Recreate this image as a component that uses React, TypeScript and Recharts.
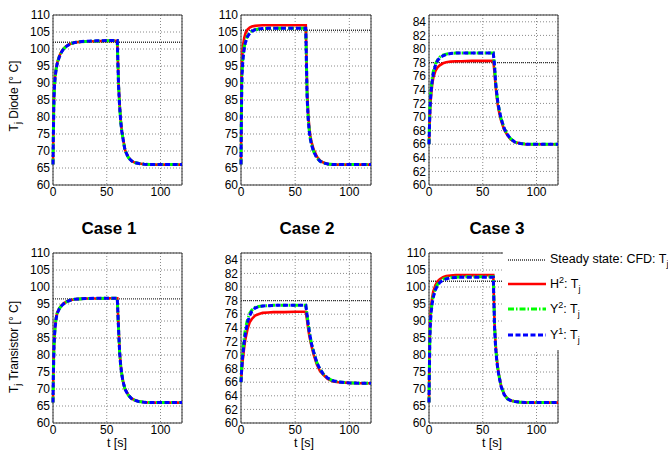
import {
  LineChart,
  Line,
  XAxis,
  YAxis,
  CartesianGrid,
  ReferenceLine,
  ReferenceArea,
} from 'recharts';

// time axis shared by every panel [s]
const T = [0, 0.3, 0.7, 1, 1.5, 2, 3, 4, 6, 8, 10, 13, 16, 20, 25, 30, 40, 50, 59.8, 61, 62, 63, 64, 65, 67, 70, 73, 76, 80, 85, 90, 100, 110, 120];

const xTicks = [0, 50, 100];
const wideTicks = [60, 65, 70, 75, 80, 85, 90, 95, 100, 105, 110];
const narrowTicks = [60, 62, 64, 66, 68, 70, 72, 74, 76, 78, 80, 82, 84];

// Case 1 - diode
const c1DiodeH2 = [66, 75, 83, 87, 90, 92, 94.5, 96, 98, 99.3, 100.2, 101, 101.5, 101.9, 102.1, 102.2, 102.3, 102.4, 102.4, 90, 83.5, 79, 76, 74, 70.3, 68.2, 67.1, 66.6, 66.3, 66.1, 66, 66, 66, 66];
const c1DiodeY2 = [66, 74, 82, 86.5, 89.8, 91.8, 94.3, 95.9, 97.9, 99.2, 100.1, 100.9, 101.5, 101.9, 102.1, 102.2, 102.3, 102.4, 102.4, 89, 83, 78.6, 75.8, 73.8, 70.2, 68.1, 67.1, 66.6, 66.3, 66.1, 66, 66, 66, 66];
const c1DiodeY1 = [66, 74, 82, 86.5, 89.7, 91.7, 94.2, 95.8, 97.8, 99.1, 100.1, 100.9, 101.5, 101.9, 102.1, 102.3, 102.4, 102.5, 102.5, 89, 83, 78.6, 75.8, 73.8, 70.2, 68.1, 67.1, 66.6, 66.3, 66.1, 66, 66, 66, 66];

// Case 2 - diode
const c2DiodeH2 = [66, 82, 93, 96.5, 99.5, 101.3, 103.3, 104.5, 105.7, 106.3, 106.6, 106.8, 106.9, 107, 107, 107, 107, 107, 107, 88, 81, 77, 74.5, 72.8, 70.5, 68.4, 67.2, 66.6, 66.2, 66, 66, 66, 66, 66];
const c2DiodeY2 = [66, 79, 90, 93.5, 96.3, 98.2, 100.6, 102.2, 103.9, 104.8, 105.3, 105.7, 105.9, 106, 106.1, 106.1, 106.1, 106.1, 106.1, 86.5, 79.8, 76, 73.7, 72.1, 69.9, 68, 67, 66.5, 66.2, 66, 66, 66, 66, 66];
const c2DiodeY1 = [66, 78, 89, 92.5, 95.5, 97.5, 100, 101.8, 103.6, 104.6, 105.2, 105.7, 105.9, 106, 106.1, 106.1, 106.1, 106.1, 106.1, 86, 79.5, 75.8, 73.5, 72, 69.8, 68, 67, 66.5, 66.2, 66, 66, 66, 66, 66];

// Case 3 - diode
const c3DiodeH2 = [66, 67.6, 69.6, 71, 72.3, 73.3, 74.8, 75.8, 76.8, 77.3, 77.6, 77.9, 78.05, 78.15, 78.2, 78.2, 78.25, 78.25, 78.25, 76.5, 74.5, 73, 71.8, 70.9, 69.5, 68.1, 67.3, 66.7, 66.3, 66.1, 66, 66, 66, 66];
const c3DiodeY2 = [66, 68.2, 70.5, 72, 73.3, 74.3, 75.7, 76.7, 77.8, 78.4, 78.8, 79.1, 79.25, 79.35, 79.4, 79.4, 79.4, 79.4, 79.4, 77.5, 75, 73.5, 72.2, 71.3, 69.8, 68.3, 67.4, 66.8, 66.3, 66.1, 66, 66, 66, 66];
const c3DiodeY1 = [66, 67.8, 70, 71.5, 72.8, 73.8, 75.3, 76.4, 77.6, 78.3, 78.7, 79, 79.2, 79.35, 79.4, 79.4, 79.4, 79.4, 79.4, 77.5, 75, 73.5, 72.2, 71.3, 69.8, 68.3, 67.4, 66.8, 66.3, 66.1, 66, 66, 66, 66];

// Case 1 - transistor
const c1TransH2 = [66, 74, 80, 83.5, 86.5, 88.5, 91.2, 92.5, 93.8, 94.6, 95.2, 95.8, 96.1, 96.4, 96.5, 96.6, 96.6, 96.7, 96.7, 88, 81, 77, 74.5, 72.5, 70, 68.3, 67.2, 66.7, 66.3, 66.1, 66, 66, 66, 66];
const c1TransY2 = [66, 73.5, 79.5, 83, 86.2, 88.3, 91, 92.4, 93.7, 94.5, 95.1, 95.7, 96.1, 96.4, 96.5, 96.6, 96.6, 96.7, 96.7, 87.5, 80.7, 76.8, 74.3, 72.4, 69.9, 68.2, 67.2, 66.7, 66.3, 66.1, 66, 66, 66, 66];
const c1TransY1 = [66, 73.5, 79.5, 83, 86.1, 88.2, 90.9, 92.3, 93.7, 94.5, 95.1, 95.7, 96.1, 96.4, 96.5, 96.6, 96.7, 96.7, 96.7, 87.5, 80.7, 76.8, 74.3, 72.4, 69.9, 68.2, 67.2, 66.7, 66.3, 66.1, 66, 66, 66, 66];

// Case 2 - transistor
const c2TransH2 = [66, 66.7, 67.6, 68.2, 69.1, 69.8, 71.2, 72.3, 73.8, 74.8, 75.3, 75.8, 76, 76.2, 76.25, 76.3, 76.3, 76.35, 76.35, 75.1, 73.9, 72.9, 72.1, 71.4, 70.1, 68.6, 67.6, 67.1, 66.5, 66.1, 66, 65.9, 65.85, 65.85];
const c2TransY2 = [66, 67.2, 68.5, 69.3, 70.3, 71.1, 72.6, 73.8, 75.2, 76.1, 76.6, 77, 77.15, 77.2, 77.25, 77.3, 77.3, 77.3, 77.3, 75.9, 74.6, 73.5, 72.6, 71.7, 70.5, 68.9, 67.9, 67.2, 66.6, 66.2, 66.05, 65.9, 65.85, 65.85];
const c2TransY1 = [66, 66.9, 68, 68.7, 69.7, 70.5, 72, 73.1, 74.8, 75.8, 76.4, 76.9, 77.1, 77.2, 77.25, 77.3, 77.3, 77.3, 77.3, 75.9, 74.6, 73.5, 72.6, 71.7, 70.5, 68.9, 67.9, 67.2, 66.6, 66.2, 66.05, 65.9, 65.85, 65.85];

// Case 3 - transistor
const c3TransH2 = [66, 76, 85, 89, 92.5, 94.5, 97, 98.7, 100.6, 101.7, 102.3, 102.9, 103.2, 103.4, 103.5, 103.5, 103.5, 103.5, 103.5, 89, 83, 79, 76.3, 74.3, 71, 68.4, 67.2, 66.6, 66.3, 66.1, 66, 66, 66, 66];
const c3TransY2 = [66, 74.5, 83, 87.5, 91, 93, 95.6, 97.4, 99.5, 100.8, 101.6, 102.3, 102.6, 102.8, 102.9, 103, 103, 103, 103, 88.5, 82.5, 78.7, 76, 74.1, 70.9, 68.3, 67.1, 66.6, 66.3, 66.1, 66, 66, 66, 66];
const c3TransY1 = [66, 74, 82.5, 87, 90.5, 92.5, 95.2, 97, 99.2, 100.5, 101.3, 102, 102.4, 102.7, 102.8, 102.9, 102.9, 102.9, 102.9, 88, 82, 78.5, 75.8, 74, 70.8, 68.3, 67.1, 66.6, 66.3, 66.1, 66, 66, 66, 66];

// steady state CFD values per panel
const steadyDiode = [102, 105.5, 78];
const steadyTrans = [96.5, 78, 101.7];

const FONT = '"Liberation Sans", Arial, sans-serif';
const RED = '#ff0000';
const GREEN = '#00ff00';
const BLUE = '#0000ff';

const buildRows = (h2: number[], y2: number[], y1: number[]) =>
  T.map((t, i) => ({ t, h2: h2[i], y2: y2[i], y1: y1[i] }));

interface PanelProps {
  x: number;
  y: number;
  w: number;
  h2: number[];
  y2: number[];
  y1: number[];
  steady: number;
  domain: [number, number];
  ticks: number[];
}

const PLOT_H = 170;
const Y_AXIS_W = 50;
const TOP_PAD = 10;

const Panel = ({ x, y, w, h2, y2, y1, steady, domain, ticks }: PanelProps) => {
  const data = buildRows(h2, y2, y1);
  const tickStyle = { fill: '#000', fontSize: 12, fontFamily: FONT };
  return (
    <div style={{ position: 'absolute', left: x - Y_AXIS_W, top: y - TOP_PAD }}>
      <LineChart
        width={w + Y_AXIS_W + 5}
        height={PLOT_H + TOP_PAD + 22}
        data={data}
        margin={{ top: TOP_PAD, right: 5, left: 0, bottom: 0 }}
      >
        <CartesianGrid strokeDasharray="1 2" stroke="#8a8a8a" />
        <XAxis
          dataKey="t"
          type="number"
          domain={[0, 120]}
          ticks={xTicks}
          height={22}
          axisLine={false}
          tickLine={false}
          tickSize={2}
          tickMargin={0}
          tick={tickStyle}
        />
        <YAxis
          type="number"
          domain={domain}
          ticks={ticks}
          interval={0}
          width={Y_AXIS_W}
          axisLine={false}
          tickLine={false}
          tickSize={3}
          tickMargin={0}
          tick={tickStyle}
        />
        <ReferenceArea x1={0} x2={120} y1={domain[0]} y2={domain[1]} fill="none" fillOpacity={0} stroke="#333" strokeWidth={1} />
        <ReferenceLine y={steady} stroke="#333" strokeDasharray="1 1" strokeWidth={1.4} />
        <Line dataKey="h2" type="linear" stroke={RED} strokeWidth={2.6} dot={false} isAnimationActive={false} />
        <Line dataKey="y2" type="linear" stroke={GREEN} strokeWidth={3} strokeDasharray="6 2 1.5 2" dot={false} isAnimationActive={false} />
        <Line dataKey="y1" type="linear" stroke={BLUE} strokeWidth={3} strokeDasharray="5 2.5" dot={false} isAnimationActive={false} />
      </LineChart>
    </div>
  );
};

const YLabel = ({ cy, text }: { cy: number; text: string }) => (
  <svg style={{ position: 'absolute', left: 0, top: 0 }} width={30} height={457}>
    <text
      transform={`translate(18, ${cy}) rotate(-90)`}
      textAnchor="middle"
      fontFamily={FONT}
      fontSize={12}
      fill="#000"
    >
      T<tspan dy={3} fontSize={9}>j</tspan>
      <tspan dy={-3}>{` ${text}`}</tspan>
    </text>
  </svg>
);

const titleStyle = (cx: number): React.CSSProperties => ({
  position: 'absolute',
  left: cx - 50,
  top: 219,
  width: 100,
  textAlign: 'center',
  fontFamily: FONT,
  fontWeight: 'bold',
  fontSize: 17,
  lineHeight: '20px',
});

const xLabelStyle = (cx: number): React.CSSProperties => ({
  position: 'absolute',
  left: cx - 30,
  top: 436,
  width: 60,
  textAlign: 'center',
  fontFamily: FONT,
  fontSize: 12.5,
  lineHeight: '15px',
});

const legendItems = [
  { label: 'Steady state: CFD: ', sup: '', color: '#333', dash: '1 1', width: 1.4 },
  { label: 'H', sup: '2', color: RED, dash: '', width: 2.6 },
  { label: 'Y', sup: '2', color: GREEN, dash: '6 2 1.5 2', width: 3 },
  { label: 'Y', sup: '1', color: BLUE, dash: '5 2.5', width: 3 },
];
const legendRowY = [260, 284, 309, 335];

export default function App() {
  const plotX = [53, 241, 429];
  const plotW = [129, 130, 129];
  return (
    <div style={{ position: 'absolute', left: 0, top: 0, width: 668, height: 457, background: '#fff', overflow: 'hidden' }}>
      <Panel x={plotX[0]} y={15} w={plotW[0]} h2={c1DiodeH2} y2={c1DiodeY2} y1={c1DiodeY1} steady={steadyDiode[0]} domain={[60, 110]} ticks={wideTicks} />
      <Panel x={plotX[1]} y={15} w={plotW[1]} h2={c2DiodeH2} y2={c2DiodeY2} y1={c2DiodeY1} steady={steadyDiode[1]} domain={[60, 110]} ticks={wideTicks} />
      <Panel x={plotX[2]} y={15} w={plotW[2]} h2={c3DiodeH2} y2={c3DiodeY2} y1={c3DiodeY1} steady={steadyDiode[2]} domain={[60, 85]} ticks={narrowTicks} />
      <Panel x={plotX[0]} y={253} w={plotW[0]} h2={c1TransH2} y2={c1TransY2} y1={c1TransY1} steady={steadyTrans[0]} domain={[60, 110]} ticks={wideTicks} />
      <Panel x={plotX[1]} y={253} w={plotW[1]} h2={c2TransH2} y2={c2TransY2} y1={c2TransY1} steady={steadyTrans[1]} domain={[60, 85]} ticks={narrowTicks} />
      <Panel x={plotX[2]} y={253} w={plotW[2]} h2={c3TransH2} y2={c3TransY2} y1={c3TransY1} steady={steadyTrans[2]} domain={[60, 110]} ticks={wideTicks} />

      <YLabel cy={96} text="Diode [° C]" />
      <YLabel cy={347} text="Transistor [° C]" />

      <div style={titleStyle(109)}>Case 1</div>
      <div style={titleStyle(307)}>Case 2</div>
      <div style={titleStyle(497)}>Case 3</div>

      <div style={xLabelStyle(117)}>t [s]</div>
      <div style={xLabelStyle(304)}>t [s]</div>
      <div style={xLabelStyle(492)}>t [s]</div>

      {/* legend box sitting over the top right of the last panel */}
      <div style={{ position: 'absolute', left: 503, top: 250, width: 170, height: 100, background: '#fff' }}>
        {legendItems.map((item, i) => (
          <div
            key={i}
            style={{
              position: 'absolute',
              left: 5,
              top: legendRowY[i] - 250 - 9,
              height: 18,
              display: 'flex',
              alignItems: 'center',
              whiteSpace: 'nowrap',
              fontFamily: FONT,
              fontSize: 12.5,
            }}
          >
            <svg width={40} height={6} style={{ marginRight: 2 }}>
              <line x1={0} x2={38} y1={3} y2={3} stroke={item.color} strokeWidth={item.width} strokeDasharray={item.dash || undefined} />
            </svg>
            <span>
              {item.label}
              {item.sup && <sup style={{ fontSize: 9 }}>{item.sup}</sup>}
              {item.sup && ': '}
              T<sub style={{ fontSize: 9 }}>j</sub>
            </span>
          </div>
        ))}
      </div>
    </div>
  );
}
